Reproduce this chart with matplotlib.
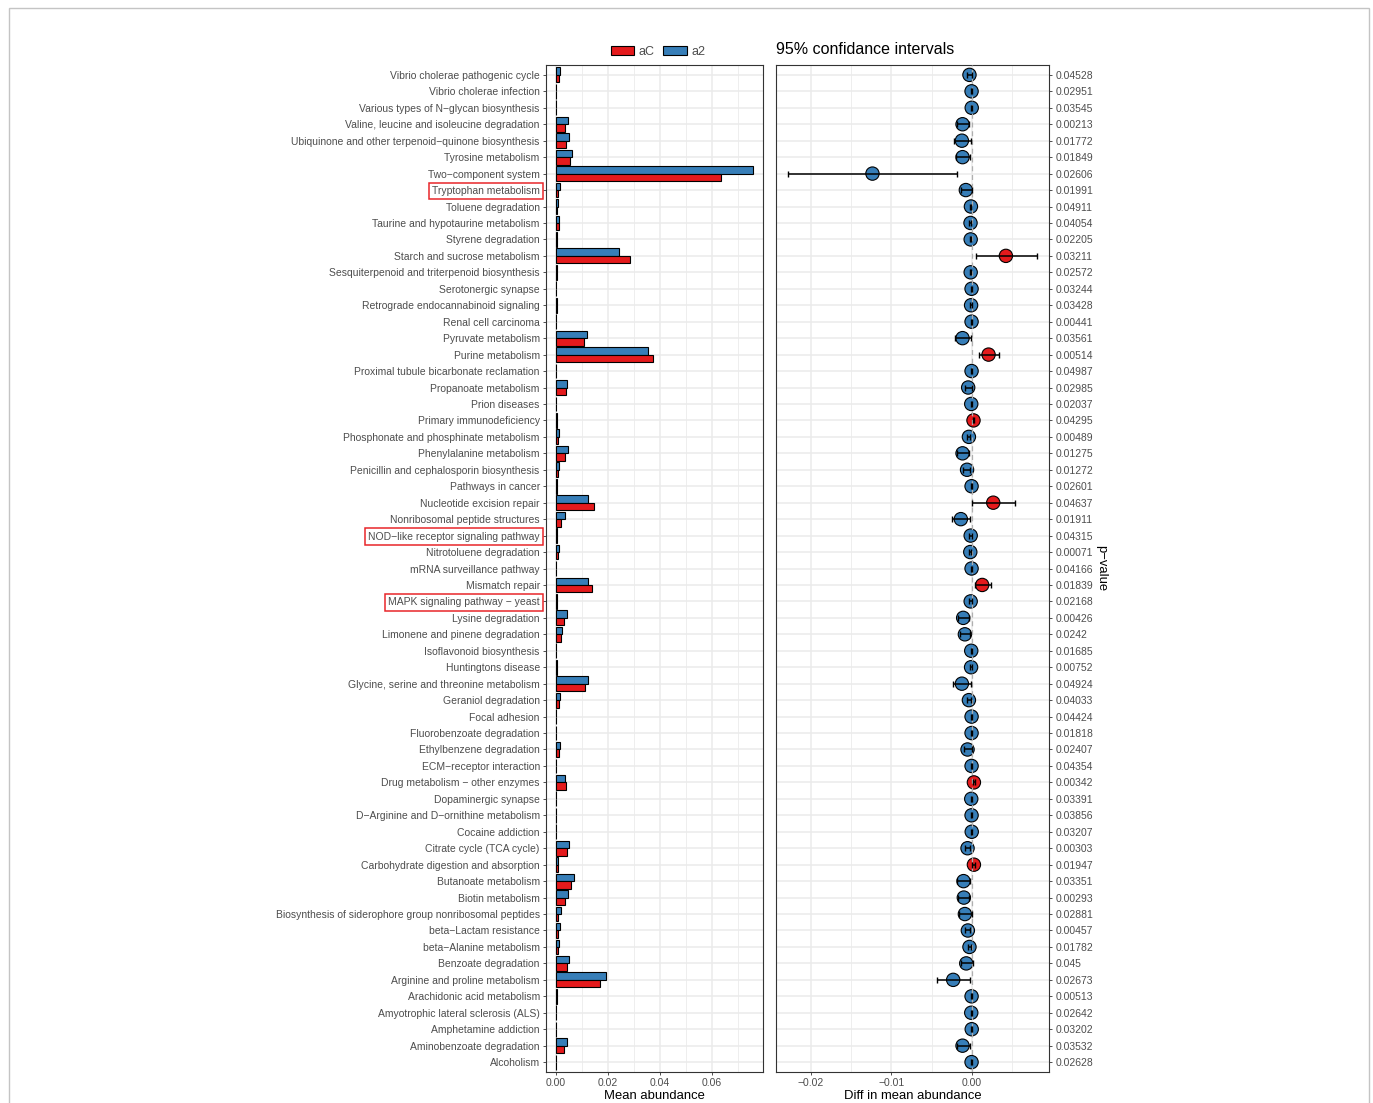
import numpy as np
import matplotlib
matplotlib.use("Agg")
import matplotlib.pyplot as plt
from matplotlib.patches import Rectangle, Patch
from matplotlib.ticker import MultipleLocator

plt.rcParams['font.family'] = ['Liberation Sans', 'DejaVu Sans']

# KEGG pathways, listed top to bottom
pathways = [
    "Vibrio cholerae pathogenic cycle", "Vibrio cholerae infection",
    "Various types of N\u2212glycan biosynthesis", "Valine, leucine and isoleucine degradation",
    "Ubiquinone and other terpenoid\u2212quinone biosynthesis", "Tyrosine metabolism",
    "Two\u2212component system", "Tryptophan metabolism", "Toluene degradation",
    "Taurine and hypotaurine metabolism", "Styrene degradation", "Starch and sucrose metabolism",
    "Sesquiterpenoid and triterpenoid biosynthesis", "Serotonergic synapse",
    "Retrograde endocannabinoid signaling", "Renal cell carcinoma", "Pyruvate metabolism",
    "Purine metabolism", "Proximal tubule bicarbonate reclamation", "Propanoate metabolism",
    "Prion diseases", "Primary immunodeficiency", "Phosphonate and phosphinate metabolism",
    "Phenylalanine metabolism", "Penicillin and cephalosporin biosynthesis", "Pathways in cancer",
    "Nucleotide excision repair", "Nonribosomal peptide structures",
    "NOD\u2212like receptor signaling pathway", "Nitrotoluene degradation",
    "mRNA surveillance pathway", "Mismatch repair", "MAPK signaling pathway \u2212 yeast",
    "Lysine degradation", "Limonene and pinene degradation", "Isoflavonoid biosynthesis",
    "Huntingtons disease", "Glycine, serine and threonine metabolism", "Geraniol degradation",
    "Focal adhesion", "Fluorobenzoate degradation", "Ethylbenzene degradation",
    "ECM\u2212receptor interaction", "Drug metabolism \u2212 other enzymes", "Dopaminergic synapse",
    "D\u2212Arginine and D\u2212ornithine metabolism", "Cocaine addiction", "Citrate cycle (TCA cycle)",
    "Carbohydrate digestion and absorption", "Butanoate metabolism", "Biotin metabolism",
    "Biosynthesis of siderophore group nonribosomal peptides", "beta\u2212Lactam resistance",
    "beta\u2212Alanine metabolism", "Benzoate degradation", "Arginine and proline metabolism",
    "Arachidonic acid metabolism", "Amyotrophic lateral sclerosis (ALS)", "Amphetamine addiction",
    "Aminobenzoate degradation", "Alcoholism",
]

# Mean relative abundance per group
mean_aC = [
    0.0012, 0.0002, 0.0001, 0.0035, 0.0038, 0.0053, 0.0635, 0.0009, 0.0006, 0.0011,
    0.0003, 0.0285, 0.0003, 0.0001, 0.0003, 0.0001, 0.0107, 0.0373, 0.0002, 0.0039,
    0.0001, 0.0005, 0.0009, 0.0035, 0.0010, 0.0003, 0.0147, 0.0020, 0.0004, 0.0010,
    0.0001, 0.0137, 0.0004, 0.0032, 0.0018, 0.0001, 0.0004, 0.0111, 0.0012, 0.0001,
    0.0002, 0.0011, 0.0001, 0.0039, 0.0001, 0.0001, 0.0001, 0.0044, 0.0010, 0.0060,
    0.0037, 0.0010, 0.0010, 0.0010, 0.0042, 0.0169, 0.0003, 0.0002, 0.0001, 0.0032,
    0.0001,
]
mean_a2 = [
    0.0016, 0.0002, 0.0001, 0.0046, 0.0052, 0.0062, 0.0758, 0.0016, 0.0008, 0.0012,
    0.0003, 0.0242, 0.0003, 0.0001, 0.0003, 0.0001, 0.0118, 0.0353, 0.0002, 0.0043,
    0.0001, 0.0003, 0.0012, 0.0045, 0.0013, 0.0003, 0.0122, 0.0035, 0.0004, 0.0012,
    0.0001, 0.0124, 0.0004, 0.0044, 0.0024, 0.0001, 0.0004, 0.0124, 0.0017, 0.0001,
    0.0002, 0.0017, 0.0001, 0.0037, 0.0001, 0.0001, 0.0001, 0.0050, 0.0008, 0.0070,
    0.0047, 0.0018, 0.0014, 0.0012, 0.0050, 0.0193, 0.0003, 0.0002, 0.0001, 0.0044,
    0.0001,
]

# Difference in mean abundance (aC - a2) with 95% confidence bounds
diff = [
    -0.00030, -0.00004, -0.00002, -0.00116, -0.00124, -0.00116, -0.01234, -0.00075, -0.00012, -0.00017,
    -0.00015, 0.00422, -0.00015, -0.00004, -0.00010, -0.00004, -0.00116, 0.00207, -0.00004, -0.00046,
    -0.00008, 0.00020, -0.00037, -0.00116, -0.00060, -0.00004, 0.00265, -0.00137, -0.00015, -0.00020,
    -0.00004, 0.00128, -0.00015, -0.00108, -0.00087, -0.00008, -0.00010, -0.00124, -0.00037, -0.00004,
    -0.00004, -0.00054, -0.00004, 0.00025, -0.00008, -0.00004, -0.00002, -0.00054, 0.00025, -0.00104,
    -0.00100, -0.00087, -0.00050, -0.00030, -0.00070, -0.00232, -0.00004, -0.00008, -0.00002, -0.00116,
    -0.00004,
]
ci_low = [
    -0.00060, -0.00010, -0.00005, -0.00183, -0.00224, -0.00199, -0.02277, -0.00140, -0.00020, -0.00030,
    -0.00025, 0.00046, -0.00025, -0.00008, -0.00018, -0.00008, -0.00210, 0.00083, -0.00008, -0.00080,
    -0.00014, 0.00010, -0.00060, -0.00180, -0.00110, -0.00008, 0.00004, -0.00241, -0.00030, -0.00040,
    -0.00008, 0.00033, -0.00030, -0.00170, -0.00150, -0.00014, -0.00018, -0.00240, -0.00060, -0.00008,
    -0.00008, -0.00100, -0.00008, 0.00010, -0.00014, -0.00008, -0.00006, -0.00090, 0.00000, -0.00180,
    -0.00170, -0.00160, -0.00090, -0.00050, -0.00140, -0.00430, -0.00008, -0.00014, -0.00006, -0.00190,
    -0.00008,
]
ci_high = [
    0.00004, 0.00000, 0.00001, -0.00033, -0.00017, -0.00025, -0.00190, 0.00000, -0.00005, -0.00005,
    -0.00005, 0.00803, -0.00005, 0.00000, -0.00002, 0.00000, -0.00010, 0.00340, 0.00000, -0.00004,
    -0.00002, 0.00030, -0.00020, -0.00030, -0.00020, 0.00000, 0.00530, -0.00020, -0.00004, -0.00010,
    0.00000, 0.00236, -0.00004, -0.00030, -0.00020, -0.00002, -0.00002, -0.00010, -0.00010, 0.00000,
    0.00000, 0.00000, 0.00000, 0.00040, -0.00002, 0.00000, 0.00002, -0.00020, 0.00040, -0.00020,
    -0.00030, 0.00000, -0.00020, -0.00010, 0.00010, -0.00025, 0.00000, -0.00002, 0.00002, -0.00020,
    0.00000,
]
p_values = [
    0.04528, 0.02951, 0.03545, 0.00213, 0.01772, 0.01849, 0.02606, 0.01991, 0.04911, 0.04054,
    0.02205, 0.03211, 0.02572, 0.03244, 0.03428, 0.00441, 0.03561, 0.00514, 0.04987, 0.02985,
    0.02037, 0.04295, 0.00489, 0.01275, 0.01272, 0.02601, 0.04637, 0.01911, 0.04315, 0.00071,
    0.04166, 0.01839, 0.02168, 0.00426, 0.0242, 0.01685, 0.00752, 0.04924, 0.04033, 0.04424,
    0.01818, 0.02407, 0.04354, 0.00342, 0.03391, 0.03856, 0.03207, 0.00303, 0.01947, 0.03351,
    0.00293, 0.02881, 0.00457, 0.01782, 0.045, 0.02673, 0.00513, 0.02642, 0.03202, 0.03532,
    0.02628,
]
highlighted = [
    "Tryptophan metabolism",
    "NOD\u2212like receptor signaling pathway",
    "MAPK signaling pathway \u2212 yeast",
]
groups = ["aC", "a2"]

COL_AC = "#E41A1C"
COL_A2 = "#377EB8"
GRID = "#EBEBEB"
TXT = "#4D4D4D"
BORDER = "#333333"

W, H = 1373, 1103
fig = plt.figure(figsize=(W / 100, H / 100), dpi=100)
fig.patch.set_facecolor("white")

n = len(pathways)
y = np.arange(n)
aC = np.array(mean_aC)
a2 = np.array(mean_a2)
d = np.array(diff)
lo = np.array(ci_low)
hi = np.array(ci_high)


def style_axis(ax):
    for s in ax.spines.values():
        s.set_color(BORDER)
        s.set_linewidth(0.8)
    ax.set_facecolor("white")
    ax.set_axisbelow(True)
    ax.grid(which="major", color=GRID, lw=1.1)
    ax.grid(which="minor", axis="x", color=GRID, lw=0.6)
    ax.tick_params(which="major", color=BORDER, length=2.5, width=0.6,
                   labelsize=7.5, labelcolor=TXT, pad=2)
    ax.tick_params(which="minor", length=0)
    ax.set_ylim(n - 1 + 0.6, -0.6)
    ax.set_yticks(y)


# ---- left panel: mean abundance bars ----
ax1 = fig.add_axes([546 / W, 1 - 1072 / H, 217 / W, 1007 / H])
style_axis(ax1)
bar_h = 0.45
ax1.barh(y - bar_h / 2, a2, height=bar_h, color=COL_A2, edgecolor="black", lw=0.8, zorder=2)
ax1.barh(y + bar_h / 2, aC, height=bar_h, color=COL_AC, edgecolor="black", lw=0.8, zorder=2)
top = max(aC.max(), a2.max())
ax1.set_xlim(-0.05 * top, 1.05 * top)
ax1.xaxis.set_major_locator(MultipleLocator(0.02))
ax1.xaxis.set_minor_locator(MultipleLocator(0.01))
ax1.xaxis.set_major_formatter(matplotlib.ticker.FormatStrFormatter("%.2f"))
ax1.set_yticklabels(pathways)
ax1.set_xlabel("Mean abundance", fontsize=9.4, labelpad=1.5)
for lab in ax1.get_yticklabels():
    if lab.get_text() in highlighted:
        lab.set_bbox(dict(boxstyle="square,pad=0.3", fc="none", ec="#E8262A", lw=1.1))

fig.legend(
    handles=[Patch(facecolor=COL_AC, edgecolor="black", lw=0.8, label=groups[0]),
             Patch(facecolor=COL_A2, edgecolor="black", lw=0.8, label=groups[1])],
    loc="center", bbox_to_anchor=(658 / W, 1 - 52 / H), ncol=2, frameon=False,
    fontsize=9, handlelength=1.85, handleheight=0.7, handletextpad=0.4,
    columnspacing=0.7, labelcolor=TXT,
)

# ---- right panel: difference with confidence intervals ----
ax2 = fig.add_axes([776 / W, 1 - 1072 / H, 273 / W, 1007 / H])
style_axis(ax2)
span = hi.max() - lo.min()
ax2.set_xlim(lo.min() - 0.05 * span, hi.max() + 0.05 * span)
ax2.xaxis.set_major_locator(MultipleLocator(0.01))
ax2.xaxis.set_minor_locator(MultipleLocator(0.005))
ax2.xaxis.set_major_formatter(
    matplotlib.ticker.FuncFormatter(lambda v, p: f"{v:.2f}".replace("-", "\u2212")))
colors = np.where(d > 0, COL_AC, COL_A2)
ax2.scatter(d, y, s=92, c=colors, edgecolors="black", linewidths=0.8, zorder=3)
ax2.axvline(0, color="#B0B0B0", ls=(0, (4, 3)), lw=0.9, zorder=3.5)
ax2.errorbar(d, y, xerr=[d - lo, hi - d], fmt="none", ecolor="black",
             elinewidth=1.1, capsize=2, capthick=1.0, zorder=4)
ax2.yaxis.tick_right()
ax2.tick_params(axis="y", which="both", left=False)
ax2.set_yticklabels([str(p) for p in p_values])
ax2.yaxis.set_label_position("right")
ax2.set_ylabel("p\u2212value", rotation=270, fontsize=9.4, labelpad=10)
ax2.set_xlabel("Diff in mean abundance", fontsize=9.4, labelpad=1.5)

fig.text(776 / W, 1 - 49 / H, "95% confidance intervals", fontsize=11.5,
         ha="left", va="center", color="black")

# light frame around the whole figure
fig.add_artist(Rectangle((9 / W, -0.02), (1369 - 9) / W, 1 - 8 / H + 0.02,
                         transform=fig.transFigure, fill=False, ec="#C4C4C4", lw=1.0))

fig.savefig("out.png", dpi=100, facecolor="white")
